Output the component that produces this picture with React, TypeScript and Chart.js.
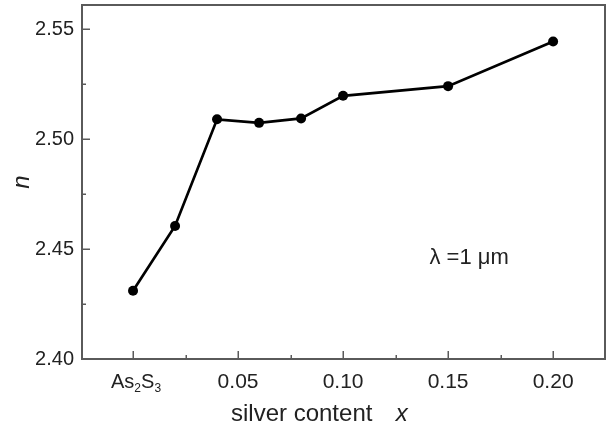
import React, { useEffect, useRef } from "react";
import { Chart, registerables } from "chart.js";

Chart.register(...registerables);

// ---- data ----
const silverContent = [0, 0.02, 0.04, 0.06, 0.08, 0.1, 0.15, 0.2];
const refractiveIndex = [2.431, 2.4605, 2.509, 2.5074, 2.5094, 2.5197, 2.5241, 2.5444];

const xTickValues = [0, 0.05, 0.1, 0.15, 0.2];
const xTickLabels = ["As2S3", "0.05", "0.10", "0.15", "0.20"];
const xMinorTicks = [0.025, 0.075, 0.125, 0.175];
const yTickValues = [2.4, 2.45, 2.5, 2.55];
const yTickLabels = ["2.40", "2.45", "2.50", "2.55"];
const yMinorTicks = [2.425, 2.475, 2.525];

const xTitle = "silver content";
const xTitleVar = "x";
const yTitle = "n";
const annotationText = "λ =1 μm";
const annotationPos = { x: 0.16, y: 2.446 };

const FONT = "'Liberation Sans', Arial, sans-serif";
const AXIS_COLOR = "#5a5a5a";
const TEXT_COLOR = "#222";

const decorPlugin = {
  id: "decor",
  afterDraw(chart: any) {
    const { ctx, chartArea: ca, scales } = chart;
    const xs = scales.x;
    const ys = scales.y;
    ctx.save();
    // frame
    ctx.strokeStyle = AXIS_COLOR;
    ctx.lineWidth = 2;
    ctx.strokeRect(ca.left, ca.top, ca.right - ca.left, ca.bottom - ca.top);
    // inward ticks
    const line = (x1: number, y1: number, x2: number, y2: number) => {
      ctx.beginPath();
      ctx.moveTo(x1, y1);
      ctx.lineTo(x2, y2);
      ctx.stroke();
    };
    ctx.lineWidth = 1.5;
    xTickValues.forEach((v) => {
      const px = Math.round(xs.getPixelForValue(v)) + 0.25;
      line(px, ca.bottom, px, ca.bottom - 8);
    });
    xMinorTicks.forEach((v) => {
      const px = Math.round(xs.getPixelForValue(v)) + 0.25;
      line(px, ca.bottom, px, ca.bottom - 4);
    });
    yTickValues.forEach((v) => {
      const py = Math.round(ys.getPixelForValue(v)) + 0.25;
      line(ca.left, py, ca.left + 8, py);
    });
    yMinorTicks.forEach((v) => {
      const py = Math.round(ys.getPixelForValue(v)) + 0.25;
      line(ca.left, py, ca.left + 4, py);
    });

    // x tick labels
    ctx.fillStyle = TEXT_COLOR;
    ctx.textBaseline = "alphabetic";
    const baseY = ca.bottom + 29;
    xTickValues.forEach((v, i) => {
      const px = xs.getPixelForValue(v);
      const label = xTickLabels[i];
      if (label === "As2S3") {
        const parts: [string, boolean][] = [
          ["As", false],
          ["2", true],
          ["S", false],
          ["3", true],
        ];
        let total = 0;
        parts.forEach(([t, sub]) => {
          ctx.font = `${sub ? 12 : 20}px ${FONT}`;
          total += ctx.measureText(t).width;
        });
        let cx = px - total / 2 + 3;
        ctx.textAlign = "left";
        parts.forEach(([t, sub]) => {
          ctx.font = `${sub ? 12 : 20}px ${FONT}`;
          ctx.fillText(t, cx, baseY + (sub ? 4 : 0));
          cx += ctx.measureText(t).width;
        });
      } else {
        ctx.font = `21px ${FONT}`;
        ctx.textAlign = "center";
        ctx.fillText(label, px, baseY);
      }
    });

    // x axis title
    ctx.textAlign = "left";
    ctx.font = `24px ${FONT}`;
    const tx = ca.left + 149;
    const ty = ca.bottom + 62;
    ctx.fillText(xTitle, tx, ty);
    const w = ctx.measureText(xTitle + "  ").width;
    ctx.font = `italic 24px ${FONT}`;
    ctx.fillText(xTitleVar, tx + w + 10, ty);

    // annotation
    ctx.font = `22px ${FONT}`;
    ctx.textAlign = "center";
    ctx.textBaseline = "middle";
    ctx.fillText(
      annotationText,
      xs.getPixelForValue(annotationPos.x),
      ys.getPixelForValue(annotationPos.y)
    );
    ctx.restore();
  },
};

export default function App() {
  const ref = useRef<HTMLCanvasElement>(null);
  useEffect(() => {
    if (!ref.current) return;
    const chart = new Chart(ref.current, {
      type: "line",
      data: {
        datasets: [
          {
            data: silverContent.map((x, i) => ({ x, y: refractiveIndex[i] })),
            borderColor: "#000",
            borderWidth: 2.7,
            pointRadius: 5,
            pointBackgroundColor: "#000",
            pointBorderWidth: 0,
            tension: 0,
            fill: false,
          },
        ],
      },
      options: {
        responsive: false,
        animation: false,
        layout: { padding: { top: 5, right: 6, left: 0, bottom: 0 } },
        plugins: {
          legend: { display: false },
          tooltip: { enabled: false },
        },
        scales: {
          x: {
            type: "linear",
            min: -0.0243,
            max: 0.2247,
            grid: { display: false, drawTicks: false },
            border: { display: false },
            ticks: { display: false },
            afterBuildTicks: (s: any) => {
              s.ticks = xTickValues.map((v) => ({ value: v }));
            },
            afterFit: (s: any) => {
              s.height = 73;
              s.paddingLeft = 0;
              s.paddingRight = 0;
            },
          },
          y: {
            type: "linear",
            min: 2.4,
            max: 2.561,
            grid: { display: false, drawTicks: false },
            border: { display: false },
            afterBuildTicks: (s: any) => {
              s.ticks = yTickValues.map((v) => ({ value: v }));
            },
            ticks: {
              padding: 8,
              color: TEXT_COLOR,
              font: { family: FONT, size: 20 },
              callback: (_v: any, i: number) => yTickLabels[i],
            },
            title: {
              display: true,
              text: yTitle,
              color: TEXT_COLOR,
              font: { family: FONT, size: 24, style: "italic", lineHeight: 1.2 },
              padding: { top: 8, bottom: 0 },
            },
            afterFit: (s: any) => {
              s.width = 82;
              s.paddingTop = 0;
              s.paddingBottom = 0;
            },
          },
        },
      },
      plugins: [decorPlugin],
    });
    return () => chart.destroy();
  }, []);
  return (
    <div style={{ position: "absolute", left: 0, top: 0, width: 611, height: 432, background: "#fff" }}>
      <canvas ref={ref} width={611} height={432} style={{ display: "block" }} />
    </div>
  );
}
